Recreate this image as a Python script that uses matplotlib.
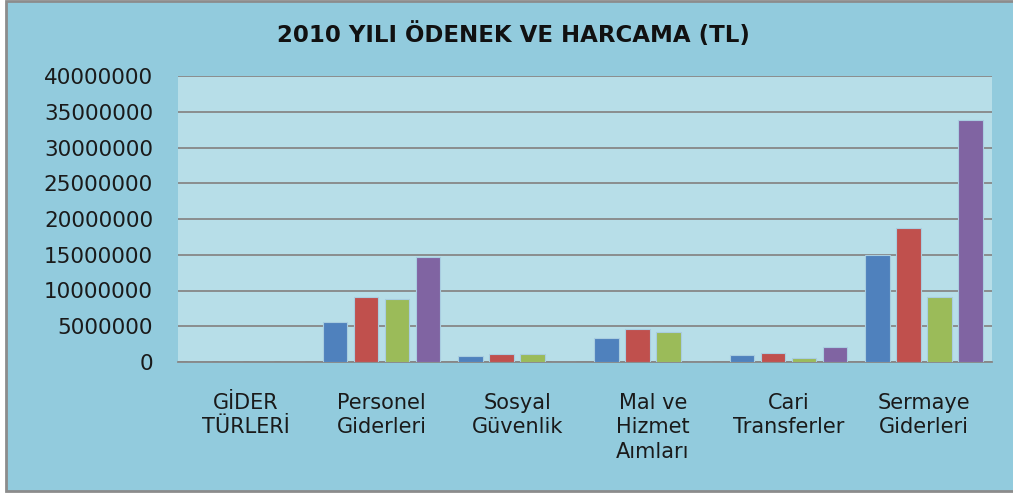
import numpy as np
import matplotlib.pyplot as plt
from matplotlib.patches import Rectangle

categories = ['GİDER\nTÜRLERİ', 'Personel\nGiderleri', 'Sosyal\nGüvenlik',
              'Mal ve\nHizmet\nAımları', 'Cari\nTransferler', 'Sermaye\nGiderleri']
seri1 = [0, 5550000, 790000, 3400000, 930000, 14970000]
seri2 = [0, 9050000, 1120000, 4600000, 1210000, 18700000]
seri3 = [0, 8880000, 1120000, 4200000, 510000, 9050000]
seri4 = [0, 14730000, 0, 0, 2140000, 33800000]

colors = ['#4f81bd', '#c0504d', '#9bbb59', '#8064a2']
outer_bg = '#92cbdd'
inner_bg = '#b7dee8'

plt.rcParams['font.family'] = ['DejaVu Sans']

fig = plt.figure(figsize=(10.13, 4.95), dpi=100, facecolor='white')
# chart frame (white strip on the left and bottom like the screenshot)
fig.patches.append(Rectangle((6 / 1013, 4 / 495), 1.0, 490 / 495, transform=fig.transFigure,
                             facecolor=outer_bg, edgecolor='#8c8c8c', linewidth=2, zorder=-10))

ax = fig.add_axes([178 / 1013, 133 / 495, 814 / 1013, 286 / 495])
ax.set_zorder(5)
ax.set_facecolor(inner_bg)

x = np.arange(len(categories))
step = 0.2285
width = 0.184
for i, vals in enumerate([seri1, seri2, seri3, seri4]):
    ax.bar(x + (i - 1.5) * step, vals, width, color=colors[i],
           edgecolor='#a9cde0', linewidth=0.8, zorder=3)

ax.set_xlim(-0.5, len(categories) - 0.5)
ax.set_ylim(0, 40000000)
ax.set_yticks(np.arange(0, 40000001, 5000000))
ax.set_yticklabels([str(v) for v in range(0, 40000001, 5000000)], fontsize=15.5, color='#1a1a1a')
ax.set_xticks(x)
ax.set_xticklabels(categories, fontsize=15, color='#1a1a1a', linespacing=1.3, va='top')
ax.tick_params(axis='y', length=0, pad=18)
ax.tick_params(axis='x', length=0, pad=22)
ax.grid(axis='y', color='#878787', linewidth=1.3, zorder=1)
ax.set_axisbelow(True)
for s in ['left', 'right', 'top']:
    ax.spines[s].set_visible(False)
ax.spines['bottom'].set_color('#878787')
ax.spines['bottom'].set_linewidth(1.3)

fig.text(513 / 1013, 1 - 35 / 495, '2010 YILI ÖDENEK VE HARCAMA (TL)', ha='center', va='center',
         fontsize=16.5, fontweight='bold', color='#111111')

fig.savefig('out.png', dpi=100, facecolor=fig.get_facecolor())
